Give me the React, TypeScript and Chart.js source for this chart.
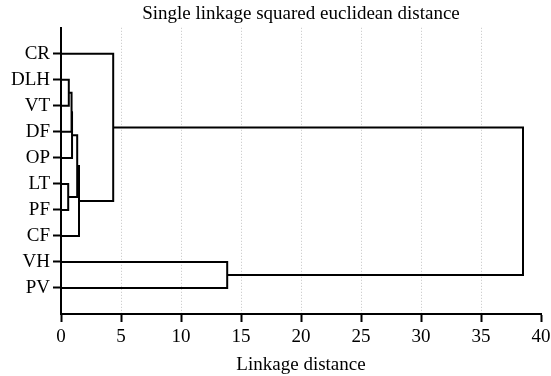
import React, { useEffect, useRef } from "react";
import { Chart, registerables } from "chart.js";

Chart.register(...registerables);

// Leaves in display order (top to bottom)
const leaves: string[] = ["CR", "DLH", "VT", "DF", "OP", "LT", "PF", "CF", "VH", "PV"];

// Merges: [childA, childB, distance]; leaves are 0..9, new clusters get 10, 11, ...
const mergeA: number[] = [5, 1, 11, 12, 13, 14, 0, 8, 16];
const mergeB: number[] = [6, 2, 3, 4, 10, 7, 15, 9, 17];
const mergeDist: number[] = [0.6, 0.65, 0.88, 0.92, 1.35, 1.5, 4.35, 13.85, 38.5];

const xTicks: number[] = [0, 5, 10, 15, 20, 25, 30, 35, 40];

const FONT = "'Liberation Serif', 'Times New Roman', serif";

function buildLinks() {
  const pos: number[] = leaves.map((_, i) => i + 1);
  const height: number[] = leaves.map(() => 0);
  const links: { x: number; y: number }[][] = [];
  mergeDist.forEach((d, k) => {
    const a = mergeA[k];
    const b = mergeB[k];
    links.push([
      { x: height[a], y: pos[a] },
      { x: d, y: pos[a] },
      { x: d, y: pos[b] },
      { x: height[b], y: pos[b] },
    ]);
    pos.push((pos[a] + pos[b]) / 2);
    height.push(d);
  });
  return links;
}

export default function App() {
  const ref = useRef<HTMLCanvasElement | null>(null);
  useEffect(() => {
    if (!ref.current) return;
    const links = buildLinks();
    const chart = new Chart(ref.current, {
      type: "scatter",
      data: {
        datasets: links.map((pts) => ({
          data: pts,
          showLine: true,
          borderColor: "#000",
          borderWidth: 2,
          pointRadius: 0,
          tension: 0,
          fill: false,
        })),
      },
      options: {
        animation: false,
        responsive: true,
        maintainAspectRatio: false,
        layout: { padding: { left: 0, right: 0, top: 0, bottom: 0 } },
        plugins: {
          legend: { display: false },
          tooltip: { enabled: false },
          title: {
            display: true,
            fullSize: false,
            text: "Single linkage squared euclidean distance",
            color: "#000",
            font: { family: FONT, size: 19, weight: "normal" },
            padding: { top: 3, bottom: 2 },
          },
        },
        scales: {
          x: {
            type: "linear",
            min: 0,
            max: 40,
            afterBuildTicks: (s: any) => {
              s.ticks = xTicks.map((v) => ({ value: v }));
            },
            afterFit: (s: any) => {
              s.height = 62;
              s.paddingLeft = 0;
              s.paddingRight = 10;
            },
            ticks: {
              color: "#000",
              font: { family: FONT, size: 19 },
              padding: 4,
              maxRotation: 0,
              autoSkip: false,
            },
            grid: {
              color: (c: any) =>
                c.tick && (c.tick.value === 0 || c.tick.value === 40) ? "rgba(0,0,0,0)" : "#c4c4c4",
              lineWidth: 1,
              tickColor: "#000",
              tickWidth: 2,
              tickLength: 8,
              tickBorderDash: [],
            },
            border: { display: true, color: "#000", width: 2, dash: [1, 2] },
            title: {
              display: true,
              text: "Linkage distance",
              color: "#000",
              font: { family: FONT, size: 19 },
              padding: { top: 0, bottom: 0 },
            },
          },
          y: {
            type: "linear",
            min: 0,
            max: 11,
            reverse: true,
            afterBuildTicks: (s: any) => {
              s.ticks = leaves.map((_, i) => ({ value: i + 1 }));
            },
            afterFit: (s: any) => {
              s.width = 61;
            },
            ticks: {
              color: "#000",
              font: { family: FONT, size: 19 },
              padding: 3,
              autoSkip: false,
              callback: (v: any) => leaves[Number(v) - 1] ?? "",
            },
            grid: {
              drawOnChartArea: false,
              drawTicks: true,
              tickColor: "#000",
              tickWidth: 2,
              tickLength: 8,
            },
            border: { display: true, color: "#000", width: 2 },
          },
        },
      },
    });
    return () => chart.destroy();
  }, []);
  return (
    <div style={{ position: "fixed", left: 0, top: 0, width: 551, height: 376, background: "#fff" }}>
      <canvas ref={ref} />
    </div>
  );
}
